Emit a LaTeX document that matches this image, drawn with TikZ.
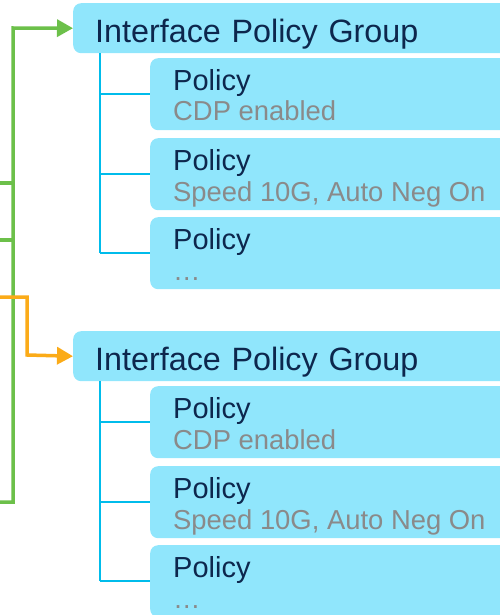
\documentclass[tikz,border=0pt]{standalone}
\usepackage{fontspec}
\setmainfont{Liberation Sans}
\usetikzlibrary{calc, positioning, arrows.meta}

\definecolor{boxcyan}{HTML}{90E6FC}
\definecolor{treeblue}{HTML}{00BCEB}
\definecolor{linkgreen}{HTML}{6CC04A}
\definecolor{linkorange}{HTML}{FBAB18}
\definecolor{navytext}{HTML}{0D274D}
\definecolor{greytext}{HTML}{8A8A8A}

\tikzset{
    grpbox/.style={anchor=north west, fill=boxcyan, rounded corners=8pt,
        inner xsep=22pt, inner ysep=0pt, text width=396pt, align=left,
        text height=39pt, text depth=11pt, text=navytext,
        font=\fontsize{32.3}{38}\selectfont},
    polbox/.style={anchor=north west, fill=boxcyan, rounded corners=8pt,
        inner xsep=23pt, inner ysep=0pt, text width=314pt, align=left,
        text height=32pt, text depth=40pt, text=navytext,
        font=\fontsize{29}{34}\selectfont},
    subtxt/.style={anchor=base west, inner sep=0pt, text=greytext,
        font=\fontsize{27.4}{32}\selectfont},
    treeline/.style={draw=treeblue, line width=2pt},
    grnline/.style={draw=linkgreen, line width=3.5pt},
    orgline/.style={draw=linkorange, line width=3.5pt},
    tip/.style={-{Triangle[width=17pt,length=16pt]}}
}

\begin{document}
\begin{tikzpicture}[x=1pt, y=-1pt]

  \useasboundingbox (0,0) rectangle (500,615);
  \clip (0,0) rectangle (500,615);

  % Gruppen mit Policies
  \foreach \g/\oy in {A/0, B/328} {
    \node[grpbox] (grp\g) at (73,3+\oy) {Interface Policy Group};
    \coordinate (tree\g) at ($(grp\g.south west)+(27,0)$);
    \foreach \p/\py/\d in {1/58/CDP enabled, 2/138/{Speed 10G, Auto Neg On}, 3/217/\ldots} {
      \node[polbox] (pol\g\p) at (150,\py+\oy) {Policy};
      \node[subtxt] (pol\g\p d) at ($(pol\g\p.north west)+(23,63)$) {\d};
      \draw[treeline] (tree\g |- pol\g\p.west) -- (pol\g\p.west);
    }
    \draw[treeline] (tree\g) -- (tree\g |- pol\g3.west);
  }

  % Zuleitungen gruen
  \coordinate (inG1) at (0,183);
  \coordinate (inG2) at (0,240);
  \coordinate (inG3) at (0,502);
  \coordinate (gbus) at (13,28);
  \draw[grnline] (inG1) -- (inG1 -| gbus);
  \draw[grnline] (inG2) -- (inG2 -| gbus);
  \draw[grnline, tip] (inG3) -| (gbus) -- (grpA.west);

  % Zuleitung orange
  \coordinate (inO) at (0,297);
  \coordinate (obend) at (27,355);
  \draw[orgline, tip] (inO) -| (obend) -- (grpB.west);

\end{tikzpicture}
\end{document}
